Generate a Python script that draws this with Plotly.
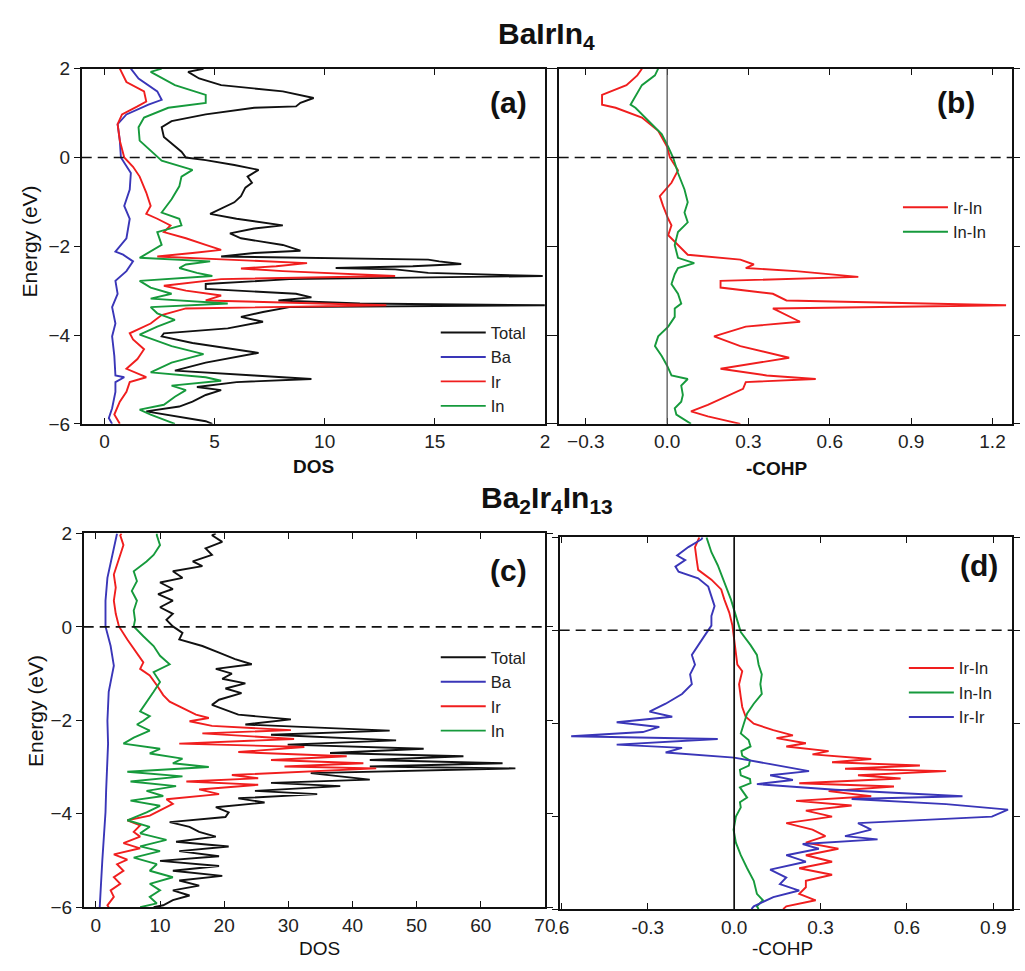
import plotly.graph_objects as go

# ---------------- Panel (a): BaIrIn4 DOS ----------------
a_total_E = [2.0, 1.93, 1.78, 1.63, 1.49, 1.34, 1.23, 1.15, 1.12, 0.97, 0.82, 0.68, 0.46, 0.24, 0.13, 0.0,
             -0.06, -0.17, -0.28, -0.43, -0.57, -0.68, -0.87, -1.01, -1.16, -1.27, -1.38, -1.53, -1.60, -1.71,
             -1.82, -1.97, -2.10, -2.15, -2.23, -2.30, -2.34, -2.40, -2.45, -2.49, -2.52, -2.60, -2.67, -2.74,
             -2.85, -2.96, -3.07, -3.15, -3.22, -3.29, -3.33, -3.37, -3.48, -3.59, -3.70, -3.85, -3.96, -4.03,
             -4.18, -4.40, -4.62, -4.80, -4.91, -4.99, -5.06, -5.17, -5.24, -5.35, -5.50, -5.61, -5.72, -5.83,
             -5.94, -6.0]
a_total = [4.5, 3.8, 4.3, 5.3, 8.1, 9.5, 8.9, 8.7, 6.8, 4.6, 3.05, 2.6, 2.7, 3.2, 3.5, 3.7,
           4.6, 5.9, 7.0, 6.5, 6.7, 6.4, 6.2, 5.9, 5.3, 4.8, 6.0, 8.1, 6.8, 5.7,
           6.2, 8.1, 8.9, 6.8, 5.3, 14.7, 15.2, 16.2, 14.0, 10.5, 13.2, 14.7, 19.9, 8.4,
           4.6, 4.6, 8.7, 9.4, 7.9, 11.6, 20.0, 8.4, 7.2, 6.2, 7.2, 5.6, 2.7, 2.6,
           4.0, 7.0, 4.6, 3.2, 6.8, 9.4, 6.0, 4.2, 5.3, 4.6, 4.0, 3.4, 1.9, 3.2,
           4.6, 4.9]

a_ba_E = [2.0, 1.78, 1.49, 1.30, 1.19, 0.97, 0.75, 0.38, 0.0, -0.35, -0.72, -1.09, -1.38, -1.82, -2.12,
          -2.19, -2.34, -2.56, -2.78, -3.07, -3.37, -3.74, -4.03, -4.47, -4.91, -4.95, -5.06, -5.28, -5.65,
          -5.87, -6.0]
a_ba = [1.2, 1.55, 2.4, 2.6, 2.0, 1.0, 0.6, 0.7, 0.75, 1.2, 1.15, 0.9, 1.15, 1.0, 0.5,
        0.85, 1.3, 1.0, 0.5, 0.6, 0.35, 0.5, 0.35, 0.45, 0.5, 0.9, 0.5, 0.5, 0.35,
        0.2, 0.35]

a_ir_E = [2.0, 1.70, 1.49, 1.26, 1.15, 0.97, 0.75, 0.38, 0.0, -0.21, -0.43, -0.79, -1.09, -1.27, -1.38,
          -1.53, -1.68, -1.82, -1.97, -2.08, -2.15, -2.23, -2.30, -2.38, -2.45, -2.50, -2.56, -2.67, -2.74,
          -2.89, -3.00, -3.11, -3.22, -3.33, -3.40, -3.55, -3.74, -3.96, -4.10, -4.32, -4.54, -4.76, -4.95,
          -5.06, -5.28, -5.50, -5.79, -6.0]
a_ir = [0.7, 1.0, 1.8, 1.9, 1.5, 0.8, 0.6, 0.7, 0.9, 1.3, 1.6, 1.9, 2.1, 1.9, 2.4,
        3.0, 2.7, 3.7, 4.6, 5.3, 4.0, 2.4, 5.6, 9.2, 7.8, 6.2, 8.1, 13.2, 5.3,
        2.7, 3.7, 5.3, 4.6, 12.8, 3.7, 2.6, 2.1, 1.15, 1.3, 1.8, 1.5, 1.0, 1.9,
        1.15, 1.0, 0.7, 0.45, 0.7]

a_in_E = [2.0, 1.93, 1.63, 1.41, 1.23, 1.12, 0.90, 0.68, 0.38, 0.16, -0.07, -0.28, -0.43, -0.65, -0.94,
          -1.24, -1.38, -1.53, -1.68, -1.97, -2.19, -2.26, -2.34, -2.41, -2.49, -2.60, -2.67, -2.78, -2.93,
          -3.07, -3.18, -3.29, -3.37, -3.51, -3.66, -3.81, -3.99, -4.25, -4.43, -4.62, -4.84, -4.95, -5.03,
          -5.14, -5.24, -5.39, -5.57, -5.68, -5.79, -6.0]
a_in = [2.6, 2.1, 3.2, 4.6, 4.6, 2.9, 1.8, 1.55, 1.6, 2.1, 2.6, 4.0, 3.5, 3.4, 3.05,
        2.6, 3.4, 3.5, 2.4, 2.6, 1.8, 1.6, 4.8, 3.7, 3.4, 4.2, 4.9, 1.6, 2.1,
        3.05, 2.1, 5.6, 2.1, 2.4, 3.2, 2.4, 1.6, 3.05, 4.5, 3.05, 2.1, 4.6, 5.3,
        3.05, 3.7, 3.2, 2.7, 1.6, 2.1, 3.2]

# ---------------- Panel (b): BaIrIn4 -COHP ----------------
b_irin_E = [2.0, 1.85, 1.63, 1.41, 1.19, 1.12, 0.90, 0.60, 0.24, 0.0, -0.29, -0.57, -0.87, -1.09, -1.38,
            -1.53, -1.75, -1.97, -2.19, -2.30, -2.41, -2.49, -2.56, -2.69, -2.78, -2.93, -3.07, -3.22, -3.33,
            -3.40, -3.55, -3.70, -3.81, -4.03, -4.25, -4.51, -4.76, -4.91, -4.99, -5.06, -5.21, -5.35, -5.57,
            -5.72, -5.83, -6.0]
b_irin = [-0.093, -0.11, -0.15, -0.24, -0.24, -0.19, -0.093, -0.033, 0.0, 0.01, 0.04, 0.016, -0.027, -0.015, 0.004,
          0.016, 0.004, 0.04, 0.076, 0.27, 0.32, 0.29, 0.475, 0.705, 0.197, 0.197, 0.39, 0.44, 1.25,
          0.39, 0.44, 0.49, 0.29, 0.173, 0.27, 0.45, 0.197, 0.367, 0.548, 0.29, 0.28, 0.23, 0.15,
          0.088, 0.15, 0.27]

b_inin_E = [2.0, 1.85, 1.63, 1.19, 1.12, 0.82, 0.53, 0.24, 0.0, -0.35, -0.72, -1.01, -1.24, -1.46, -1.68,
            -1.97, -2.26, -2.38, -2.49, -2.63, -2.85, -3.07, -3.29, -3.40, -3.59, -3.81, -4.03, -4.25, -4.47,
            -4.69, -4.91, -4.99, -5.14, -5.35, -5.50, -5.65, -5.79, -6.0]
b_inin = [-0.033, -0.045, -0.093, -0.135, -0.117, -0.069, -0.02, 0.004, 0.022, 0.04, 0.064, 0.076, 0.064, 0.076, 0.04,
          0.028, 0.04, 0.10, 0.04, 0.028, 0.016, 0.04, 0.052, 0.028, 0.028, 0.004, -0.033, -0.045, -0.02,
          0.0, 0.016, 0.076, 0.052, 0.058, 0.052, 0.028, 0.034, 0.088]

# ---------------- Panel (c): Ba2Ir4In13 DOS ----------------
c_total_E = [2.0, 1.96, 1.82, 1.68, 1.54, 1.40, 1.30, 1.19, 1.05, 0.95, 0.81, 0.70, 0.56, 0.42, 0.28, 0.15,
             0.01, -0.13, -0.27, -0.41, -0.55, -0.69, -0.80, -0.90, -1.00, -1.11, -1.21, -1.32, -1.42, -1.56,
             -1.67, -1.77, -1.88, -1.98, -2.09, -2.22, -2.31, -2.43, -2.52, -2.61, -2.70, -2.77, -2.85, -2.92,
             -2.99, -3.03, -3.13, -3.27, -3.34, -3.41, -3.51, -3.58, -3.67, -3.76, -3.86, -3.97, -4.07, -4.18,
             -4.28, -4.39, -4.49, -4.60, -4.70, -4.80, -4.91, -5.01, -5.12, -5.22, -5.33, -5.43, -5.54, -5.64,
             -5.75, -5.85, -5.96, -6.0]
c_total = [18.7, 18.1, 19.7, 17.1, 18.1, 15.1, 16.6, 12.0, 13.5, 10.0, 12.0, 9.7, 12.0, 10.0, 12.0, 11.0,
           12.0, 13.5, 13.0, 16.6, 19.2, 21.7, 24.3, 18.7, 21.2, 19.7, 23.3, 20.2, 22.7, 19.2,
           18.1, 20.2, 22.2, 30.4, 23.3, 45.8, 27.3, 46.8, 29.9, 51.1, 36.5, 57.3, 42.7, 63.4,
           42.7, 65.4, 33.5, 42.7, 27.3, 38.1, 24.8, 34.5, 22.2, 26.3, 18.7, 20.7, 20.2, 11.5,
           14.6, 16.1, 18.7, 12.5, 20.7, 13.0, 19.2, 10.0, 19.2, 12.0, 19.7, 13.0, 16.1, 12.0,
           14.6, 12.0, 10.5, 9.0]

c_ba_E = [2.0, 1.68, 1.40, 1.05, 0.56, 0.01, -0.41, -0.83, -1.39, -2.01, -2.50, -3.0, -3.5, -3.97, -4.5,
          -5.01, -5.5, -6.0]
c_ba = [3.3, 2.8, 2.3, 1.8, 1.5, 1.5, 2.3, 2.8, 2.0, 1.8, 1.9, 1.7, 1.6, 1.5, 1.2,
        1.0, 0.8, 0.6]

c_ir_E = [2.0, 1.96, 1.75, 1.54, 1.33, 1.12, 0.84, 0.56, 0.28, 0.01, -0.27, -0.55, -0.76, -0.90, -1.04,
          -1.25, -1.46, -1.60, -1.74, -1.88, -1.95, -2.02, -2.12, -2.21, -2.28, -2.40, -2.50, -2.57, -2.68,
          -2.77, -2.85, -2.92, -2.99, -3.03, -3.17, -3.24, -3.31, -3.38, -3.48, -3.58, -3.69, -3.79, -3.93,
          -4.04, -4.14, -4.25, -4.39, -4.49, -4.63, -4.74, -4.87, -4.98, -5.08, -5.22, -5.36, -5.50, -5.64,
          -5.78, -5.96, -6.0]
c_ir = [4.0, 3.8, 4.3, 3.8, 3.3, 2.8, 3.1, 2.8, 3.1, 3.6, 4.9, 6.4, 7.4, 6.9, 8.4,
        9.5, 10.5, 11.5, 13.5, 15.6, 17.6, 14.6, 18.1, 30.4, 16.6, 30.9, 13.0, 32.5, 22.2,
        39.1, 27.3, 41.7, 29.4, 43.7, 21.2, 25.3, 14.1, 25.3, 16.1, 19.2, 11.0, 12.0, 10.0,
        8.4, 4.9, 6.9, 5.9, 6.9, 4.3, 6.9, 2.8, 4.9, 3.3, 4.3, 2.8, 3.8, 2.3,
        2.8, 1.8, 2.0]

c_in_E = [2.0, 1.96, 1.75, 1.54, 1.40, 1.19, 0.98, 0.77, 0.56, 0.35, 0.15, 0.01, -0.20, -0.41, -0.62,
          -0.80, -0.97, -1.18, -1.39, -1.60, -1.81, -1.91, -2.01, -2.09, -2.22, -2.37, -2.50, -2.61, -2.71,
          -2.82, -2.92, -3.00, -3.10, -3.20, -3.31, -3.41, -3.51, -3.62, -3.72, -3.83, -3.97, -4.14, -4.28,
          -4.42, -4.56, -4.70, -4.80, -4.94, -5.08, -5.22, -5.36, -5.50, -5.64, -5.78, -5.92, -6.0]
c_in = [9.5, 9.5, 10.0, 9.0, 7.9, 5.9, 6.4, 5.6, 6.4, 5.9, 6.1, 5.9, 7.4, 9.0, 10.0,
        11.5, 9.0, 10.0, 9.0, 7.9, 6.9, 8.4, 7.4, 6.4, 8.4, 5.9, 4.3, 10.0, 8.4,
        13.5, 12.0, 17.6, 4.9, 13.5, 5.4, 12.5, 7.9, 10.5, 5.4, 10.0, 7.9, 4.9, 8.4,
        6.9, 11.0, 6.9, 10.0, 5.9, 9.5, 8.4, 12.0, 8.4, 10.0, 8.4, 9.5, 6.9]

# ---------------- Panel (d): Ba2Ir4In13 -COHP ----------------
d_irin_E = [2.0, 1.79, 1.51, 1.30, 1.09, 0.88, 0.66, 0.38, 0.10, -0.18, -0.46, -0.74, -0.88, -1.16, -1.44,
            -1.65, -1.86, -2.01, -2.15, -2.26, -2.32, -2.43, -2.50, -2.60, -2.67, -2.77, -2.84, -2.91, -2.98,
            -3.03, -3.12, -3.19, -3.29, -3.36, -3.46, -3.57, -3.67, -3.77, -3.88, -4.01, -4.15, -4.29, -4.43,
            -4.57, -4.70, -4.84, -4.98, -5.12, -5.26, -5.39, -5.53, -5.67, -5.81, -5.94, -6.0]
d_irin = [-0.121, -0.136, -0.130, -0.125, -0.079, -0.045, -0.034, -0.017, -0.006, 0.0, 0.006, 0.011, 0.028, 0.017, 0.023,
          0.028, 0.040, 0.068, 0.136, 0.204, 0.147, 0.249, 0.181, 0.328, 0.272, 0.476, 0.340, 0.645, 0.385,
          0.736, 0.430, 0.578, 0.226, 0.555, 0.328, 0.476, 0.215, 0.408, 0.249, 0.340, 0.181, 0.272, 0.317,
          0.249, 0.362, 0.249, 0.340, 0.226, 0.340, 0.249, 0.249, 0.226, 0.283, 0.181, 0.170]

d_inin_E = [2.0, 1.68, 1.40, 1.05, 0.66, 0.31, -0.04, -0.32, -0.53, -0.74, -0.95, -1.16, -1.37, -1.58, -1.79,
            -2.0, -2.22, -2.36, -2.50, -2.60, -2.70, -2.80, -2.91, -3.00, -3.12, -3.20, -3.29, -3.38, -3.46,
            -3.60, -3.70, -3.81, -4.01, -4.29, -4.57, -4.84, -5.12, -5.39, -5.67, -5.81, -5.94, -6.0]
d_inin = [-0.096, -0.079, -0.057, -0.034, -0.011, 0.006, 0.023, 0.057, 0.079, 0.085, 0.096, 0.091, 0.096, 0.068, 0.045,
          0.034, 0.023, 0.050, 0.057, 0.025, 0.028, 0.055, 0.051, 0.020, 0.023, 0.055, 0.057, 0.020, 0.028,
          0.045, 0.020, 0.023, 0.006, -0.002, 0.006, 0.023, 0.045, 0.068, 0.079, 0.100, 0.079, 0.085]

d_irir_E = [2.0, 1.96, 1.79, 1.61, 1.51, 1.37, 1.26, 1.12, 0.94, 0.73, 0.52, 0.31, 0.10, -0.11, -0.32,
            -0.53, -0.74, -0.95, -1.16, -1.37, -1.58, -1.75, -1.86, -1.98, -2.08, -2.19, -2.28, -2.34, -2.46,
            -2.53, -2.63, -2.74, -2.84, -2.94, -3.03, -3.12, -3.22, -3.31, -3.43, -3.57, -3.63, -3.74, -3.86,
            -4.01, -4.15, -4.29, -4.43, -4.50, -4.60, -4.70, -4.84, -4.98, -5.15, -5.32, -5.46, -5.60, -5.74,
            -5.94, -6.0]
d_irir = [-0.110, -0.113, -0.159, -0.198, -0.170, -0.204, -0.193, -0.125, -0.090, -0.079, -0.068, -0.079, -0.079, -0.102, -0.125,
          -0.147, -0.136, -0.153, -0.147, -0.181, -0.238, -0.294, -0.215, -0.408, -0.260, -0.317, -0.566, -0.057, -0.408,
          -0.181, -0.238, 0.0, 0.090, 0.181, 0.260, 0.125, 0.204, 0.079, 0.351, 0.793, 0.408, 0.736, 0.951,
          0.895, 0.430, 0.476, 0.385, 0.498, 0.238, 0.294, 0.181, 0.249, 0.125, 0.181, 0.159, 0.226, 0.136,
          0.068, 0.060]

# ---------------- styling ----------------
BLACK = "#111111"
BLUE = "#3a36b8"
RED = "#f01e1e"
GREEN = "#169a3c"
FONT = "Arial, Liberation Sans, sans-serif"
LW = 1.9

fig = go.Figure()

def add(xv, yv, name, color, ax, legend):
    fig.add_trace(go.Scatter(x=xv, y=yv, mode="lines", name=name,
                             line=dict(color=color, width=LW),
                             xaxis="x" + ax, yaxis="y" + ax, legend=legend))

add(a_total, a_total_E, "Total", BLACK, "", "legend")
add(a_ba, a_ba_E, "Ba", BLUE, "", "legend")
add(a_ir, a_ir_E, "Ir", RED, "", "legend")
add(a_in, a_in_E, "In", GREEN, "", "legend")

add(b_irin, b_irin_E, "Ir-In", RED, "2", "legend2")
add(b_inin, b_inin_E, "In-In", GREEN, "2", "legend2")

add(c_total, c_total_E, "Total", BLACK, "3", "legend3")
add(c_ba, c_ba_E, "Ba", BLUE, "3", "legend3")
add(c_ir, c_ir_E, "Ir", RED, "3", "legend3")
add(c_in, c_in_E, "In", GREEN, "3", "legend3")

add(d_irin, d_irin_E, "Ir-In", RED, "4", "legend4")
add(d_inin, d_inin_E, "In-In", GREEN, "4", "legend4")
add(d_irir, d_irir_E, "Ir-Ir", BLUE, "4", "legend4")

W, H = 1025, 971
def px_x(p):
    return p / W
def px_y(p):
    return 1 - p / H

x_common = dict(showline=True, mirror="ticks", linecolor=BLACK, linewidth=1.6,
                ticks="inside", ticklen=6, tickwidth=1.3, tickcolor=BLACK,
                showgrid=False, zeroline=False,
                tickfont=dict(family=FONT, size=19, color="#222222"))
y_common = dict(showline=True, mirror="ticks", linecolor=BLACK, linewidth=1.6,
                ticks="outside", ticklen=6, tickwidth=1.3, tickcolor=BLACK,
                showgrid=False, zeroline=False,
                tickfont=dict(family=FONT, size=19, color="#222222"),
                range=[-6, 2], tickvals=[-6, -4, -2, 0, 2])

fig.update_layout(
    width=W, height=H,
    margin=dict(l=0, r=0, t=0, b=0),
    paper_bgcolor="white", plot_bgcolor="white",
    font=dict(family=FONT, size=19, color="#222222"),
    xaxis=dict(domain=[px_x(77), px_x(548)], anchor="y", range=[-1.03, 20.0],
               tickvals=[0, 5, 10, 15, 20], ticktext=["0", "5", "10", "15", "2"], **x_common),
    yaxis=dict(domain=[px_y(423), px_y(60)], anchor="x", **y_common),
    xaxis2=dict(domain=[px_x(562), px_x(1023)], anchor="y2", range=[-0.40, 1.272],
                tickvals=[-0.3, 0.0, 0.3, 0.6, 0.9, 1.2], tickformat=".1f", **x_common),
    yaxis2=dict(domain=[px_y(423), px_y(60)], anchor="x2", showticklabels=False, **y_common),
    xaxis3=dict(domain=[px_x(79), px_x(548)], anchor="y3", range=[-1.9, 70],
                tickvals=[0, 10, 20, 30, 40, 50, 60, 70], **x_common),
    yaxis3=dict(domain=[px_y(917), px_y(535)], anchor="x3", **y_common),
    xaxis4=dict(domain=[px_x(563), px_x(1023)], anchor="y4", range=[-0.606, 0.965],
                tickvals=[-0.6, -0.3, 0.0, 0.3, 0.6, 0.9],
                ticktext=[".6", "-0.3", "0.0", "0.3", "0.6", "0.9"], **x_common),
    yaxis4=dict(domain=[px_y(919), px_y(539)], anchor="x4", showticklabels=False, **y_common),
    showlegend=True,
)

leg_common = dict(bgcolor="rgba(0,0,0,0)", borderwidth=0, tracegroupgap=0,
                  font=dict(family=FONT, size=16.5, color="#222222"),
                  xanchor="left", yanchor="top", itemwidth=45)
fig.update_layout(
    legend=dict(x=px_x(437), y=px_y(312), **leg_common),
    legend2=dict(x=px_x(907), y=px_y(184), **leg_common),
    legend3=dict(x=px_x(437), y=px_y(644), **leg_common),
    legend4=dict(x=px_x(913), y=px_y(655), **leg_common),
)

# Fermi-level dashed lines and zero lines
for ax in ["", "2", "3", "4"]:
    fig.add_shape(type="line", xref=("x" + ax + " domain"), yref=("y" + ax),
                  x0=0, x1=1, y0=0, y1=0,
                  line=dict(color=BLACK, width=1.6, dash="10px,6px"))
fig.add_shape(type="line", xref="x2", yref="y2 domain", x0=0, x1=0, y0=0, y1=1,
              line=dict(color="#555555", width=1.3))
fig.add_shape(type="line", xref="x4", yref="y4 domain", x0=0, x1=0, y0=0, y1=1,
              line=dict(color=BLACK, width=1.7))

def ann(text, x, y, size=19, bold=False, angle=0):
    if bold:
        text = "<b>" + text + "</b>"
    fig.add_annotation(text=text, x=px_x(x), y=px_y(y), xref="paper", yref="paper",
                       showarrow=False, textangle=angle,
                       font=dict(family=FONT, size=size, color="#111111"),
                       xanchor="center", yanchor="middle")

ann("BaIrIn<sub>4</sub>", 550, 26, size=30, bold=True)
ann("Ba<sub>2</sub>Ir<sub>4</sub>In<sub>13</sub>", 550, 500, size=30, bold=True)
ann("(a)", 511, 95, size=30, bold=True)
ann("(b)", 966, 95, size=30, bold=True)
ann("(c)", 511, 573, size=30, bold=True)
ann("(d)", 989, 568, size=30, bold=True)
ann("DOS", 313, 467, bold=True)
ann("-COHP", 784, 469, bold=True)
ann("DOS", 319, 959)
ann("-COHP", 790, 959)
ann("Energy (eV)", 24, 237, size=21, angle=-90)
ann("Energy (eV)", 30, 717, size=21, angle=-90)

fig.write_html("out.html", config={"displayModeBar": False},
               post_script="document.body.style.margin='0';")
